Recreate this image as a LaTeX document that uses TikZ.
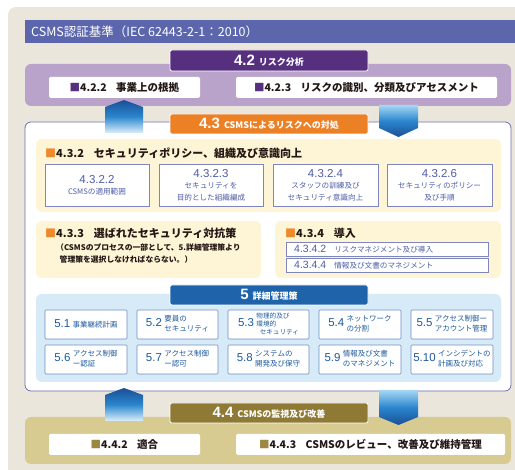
\documentclass[tikz,border=0pt]{standalone}
\usepackage{fontspec}
\setmainfont{Noto Sans CJK JP}
\newfontfamily\numf{Liberation Sans}
\definecolor{beige}{HTML}{EBE6DC}
\definecolor{hdr}{HTML}{5C66AD}
\definecolor{purpdark}{HTML}{56307F}
\definecolor{purpband}{HTML}{B9A3CB}
\definecolor{orangetab}{HTML}{EC8024}
\definecolor{panelline}{HTML}{6C70AE}
\definecolor{yellowbg}{HTML}{FDF5D5}
\definecolor{orsq}{HTML}{EE8A2C}
\definecolor{subline}{HTML}{7F86BE}
\definecolor{subtext}{HTML}{4E5CA8}
\definecolor{bluetab}{HTML}{1F63AB}
\definecolor{lightblue}{HTML}{D6EAF7}
\definecolor{line5}{HTML}{6D8DC4}
\definecolor{text5}{HTML}{1D5A9E}
\definecolor{olive}{HTML}{8E7A34}
\definecolor{tanband}{HTML}{D7CB92}
\definecolor{olsq}{HTML}{9C8742}
\definecolor{txt}{HTML}{231815}
\definecolor{arrdark}{HTML}{1B4F95}
\definecolor{arrmid}{HTML}{2A86CE}
\definecolor{arrlight}{HTML}{DDEFFA}
\definecolor{arrtop}{HTML}{A6D7F3}
\newcommand\tabtitle[2]{{\bfseries\numf\fontsize{15}{15}\selectfont #1}\hspace{4pt}{\bfseries\fontsize{9}{9}\selectfont #2}}
\newcommand\sqr[1]{\textcolor{#1}{■}}
\newcommand\smalltext{\fontsize{7.6}{9.5}\selectfont}
\newcommand\subnum{\numf\fontsize{11.5}{13}\selectfont}
\begin{document}
\begin{tikzpicture}[x=1pt,y=-1pt,
  rect/.style 2 args={minimum width=#1, minimum height=#2, inner sep=0pt, outer sep=0pt},
  tabbox/.style={draw=white, line width=0.8pt, rounded corners=2pt, text=white},
  band/.style={rounded corners=6pt},
  whitebox/.style={fill=white, rounded corners=1.5pt, text=txt, font=\bfseries\fontsize{10.5}{12}\selectfont},
  subbox/.style={fill=white, draw=subline, line width=0.6pt, text=subtext, align=center},
  fivebox/.style={fill=white, draw=line5, line width=0.6pt, text=text5, rounded corners=1pt},
  sectitle/.style={anchor=west, text=txt, font=\bfseries\fontsize{11}{13}\selectfont, inner sep=0pt}
]
\useasboundingbox (0,0) rectangle (515,470);
% background
\fill[beige, rounded corners=8pt] (8,7) rectangle (540,490);
\node[rect={490pt}{23pt}, fill=hdr] (hdr) at (270,31.5) {};
\node[anchor=west, text=white, inner sep=0pt, font=\fontsize{12.5}{14}\selectfont] (hdrtext) at ([xshift=6pt]hdr.west) {CSMS認証基準（IEC 62443-2-1：2010）};

% 4.2
\node[rect={486pt}{42pt}, band, fill=purpband] (band42) at (268,85) {};
\node[rect={198pt}{21pt}, tabbox, fill=purpdark] (tab42) at (269,60.5) {\tabtitle{4.2}{リスク分析}};
\node[rect={151pt}{21pt}, whitebox] (b422) at (124.5,87.5) {\sqr{purpdark}4.2.2\hspace{0.9em}事業上の根拠};
\node[rect={261pt}{21pt}, whitebox] (b423) at (366.5,87.5) {\sqr{purpdark}4.2.3\hspace{0.9em}リスクの識別、分類及びアセスメント};

% 4.3 panel
\node[rect={486pt}{269pt}, rounded corners=6pt, fill=white, draw=panelline, line width=0.8pt] (panel) at (268,256.5) {};
\node[rect={198pt}{20pt}, tabbox, fill=orangetab] (tab43) at (269,124) {\tabtitle{4.3}{CSMSによるリスクへの対処}};

\node[rect={465pt}{73pt}, band, fill=yellowbg] (y432) at (268.5,175.5) {};
\node[sectitle] (t432) at (45,153) {\sqr{orsq}4.3.2\hspace{0.9em}セキュリティポリシー、組織及び意識向上};
\node[rect={104pt}{42pt}, subbox] (s4322) at (97,185) {\subnum 4.3.2.2\\[-1pt]\smalltext CSMSの適用範囲};
\node[rect={104pt}{42pt}, subbox] (s4323) at (211,185) {\subnum 4.3.2.3\\[-1pt]\smalltext セキュリティを\\\smalltext 目的とした組織編成};
\node[rect={105pt}{42pt}, subbox] (s4324) at (325.5,185) {\subnum 4.3.2.4\\[-1pt]\smalltext スタッフの訓練及び\\\smalltext セキュリティ意識向上};
\node[rect={105pt}{42pt}, subbox] (s4326) at (439.5,185) {\subnum 4.3.2.6\\[-1pt]\smalltext セキュリティのポリシー\\\smalltext 及び手順};

\node[rect={225pt}{57pt}, band, fill=yellowbg] (y433) at (148.5,249.5) {};
\node[rect={226pt}{57pt}, band, fill=yellowbg] (y434) at (388,249.5) {};
\node[sectitle] (t433) at (45,233) {\sqr{orsq}4.3.3\hspace{0.9em}選ばれたセキュリティ対抗策};
\node[anchor=north west, inner sep=0pt, align=left, text=txt, font=\bfseries\fontsize{7.8}{12}\selectfont] (n433) at (56,244) {（CSMSのプロセスの一部として、5.詳細管理策より\\\hspace{0.45em}管理策を選択しなければならない。）};
\node[sectitle] (t434) at (285,233) {\sqr{orsq}4.3.4\hspace{0.9em}導入};
\node[rect={202pt}{14pt}, subbox] (s4342) at (387,249) {};
\node[anchor=west, inner sep=0pt, text=subtext] (s4342t) at ([xshift=8pt]s4342.west) {{\numf\fontsize{10.5}{12}\selectfont 4.3.4.2}\hspace{8pt}{\smalltext リスクマネジメント及び導入}};
\node[rect={202pt}{14pt}, subbox] (s4344) at (387,265) {};
\node[anchor=west, inner sep=0pt, text=subtext] (s4344t) at ([xshift=8pt]s4344.west) {{\numf\fontsize{10.5}{12}\selectfont 4.3.4.4}\hspace{8pt}{\smalltext 情報及び文書のマネジメント}};

% 5
\node[rect={465pt}{88pt}, band, fill=lightblue] (lb5) at (268.5,338) {};
\node[rect={198pt}{20pt}, tabbox, fill=bluetab] (tab5) at (269,295) {\tabtitle{5}{詳細管理策}};
\newcommand\fivec[2]{{\numf\fontsize{11.5}{12}\selectfont #1}\hspace{2.5pt}{\fontsize{7.5}{9.3}\selectfont\begin{tabular}{@{}l@{}}#2\end{tabular}}}
\node[rect={82pt}{29pt}, fivebox] (f51) at (86,324.5) {\fivec{5.1}{事業継続計画}};
\node[rect={81pt}{29pt}, fivebox] (f52) at (177.5,324.5) {\fivec{5.2}{要員の\\セキュリティ}};
\node[rect={81pt}{29pt}, fivebox] (f53) at (268.5,324.5) {{\numf\fontsize{11.5}{12}\selectfont 5.3}\hspace{2.5pt}{\fontsize{6.6}{8}\selectfont\begin{tabular}{@{}l@{}}物理的及び\\環境的\\\hspace{0.5em}セキュリティ\end{tabular}}};
\node[rect={82pt}{29pt}, fivebox] (f54) at (360,324.5) {\fivec{5.4}{ネットワーク\\の分割}};
\node[rect={82pt}{29pt}, fivebox] (f55) at (452,324.5) {\fivec{5.5}{アクセス制御ー\\アカウント管理}};
\node[rect={82pt}{29pt}, fivebox] (f56) at (86,359.5) {\fivec{5.6}{アクセス制御\\ー認証}};
\node[rect={81pt}{29pt}, fivebox] (f57) at (177.5,359.5) {\fivec{5.7}{アクセス制御\\ー認可}};
\node[rect={81pt}{29pt}, fivebox] (f58) at (268.5,359.5) {\fivec{5.8}{システムの\\開発及び保守}};
\node[rect={82pt}{29pt}, fivebox] (f59) at (360,359.5) {\fivec{5.9}{情報及び文書\\のマネジメント}};
\node[rect={82pt}{29pt}, fivebox] (f510) at (452,359.5) {\fivec{5.10}{インシデントの\\計画及び対応}};

% 4.4
\node[rect={486pt}{47pt}, band, fill=tanband] (band44) at (268,440.5) {};
\node[rect={198pt}{20pt}, tabbox, fill=olive] (tab44) at (269,413) {\tabtitle{4.4}{CSMSの監視及び改善}};
\node[rect={151pt}{21pt}, whitebox] (b442) at (124.5,444.5) {\sqr{olsq}4.4.2\hspace{0.9em}適合};
\node[rect={269pt}{21pt}, whitebox] (b443) at (370.5,444.5) {\sqr{olsq}4.4.3\hspace{0.9em}CSMSのレビュー、改善及び維持管理};

% block arrows
\shade[top color=arrdark, bottom color=arrlight, middle color=arrmid] (105,133) -- (105,107) -- (124,100) -- (143,107) -- (143,133) -- cycle;
\shade[top color=arrtop, bottom color=arrdark, middle color=arrmid] (379,105) -- (418,105) -- (418,128) -- (398.5,137) -- (379,128) -- cycle;
\shade[top color=arrdark, bottom color=arrlight, middle color=arrmid] (105,421) -- (105,395) -- (124,388) -- (143,395) -- (143,421) -- cycle;
\shade[top color=arrtop, bottom color=arrdark, middle color=arrmid] (379,390) -- (418,390) -- (418,417) -- (398.5,425) -- (379,417) -- cycle;
\end{tikzpicture}
\end{document}
